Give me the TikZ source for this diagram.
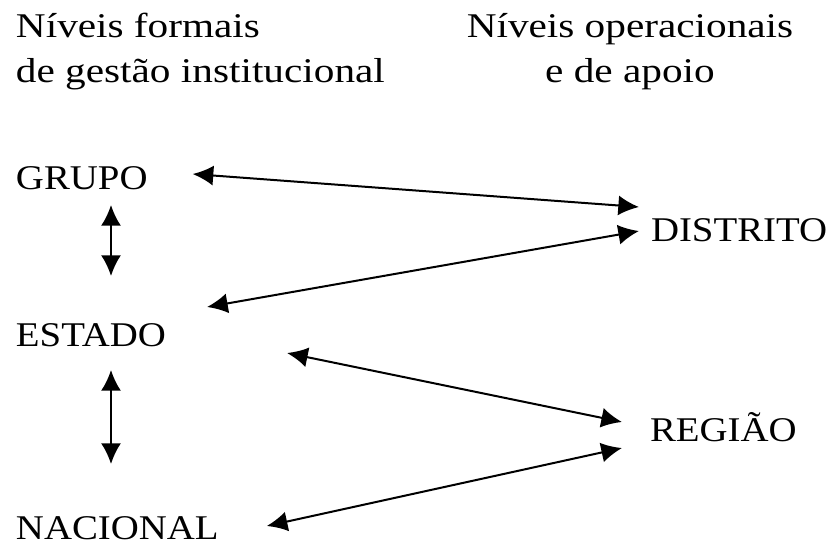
\documentclass[tikz,border=0pt]{standalone}
\usepackage{fontspec}
\setmainfont{Liberation Serif}[FakeStretch=1.12]
\newfontfamily\hdrfont{Liberation Serif}[FakeStretch=1.19]
\usetikzlibrary{arrows.meta}
\tikzset{
  lbl/.style={inner sep=0pt, outer sep=0pt, anchor=base west, text depth=0pt, font=\fontsize{26}{45}\selectfont},
  hdr/.style={inner sep=0pt, outer sep=0pt, anchor=base, align=center, font=\hdrfont\fontsize{26}{34}\selectfont},
  hdrl/.style={inner sep=0pt, outer sep=0pt, anchor=base west, align=left, font=\hdrfont\fontsize{26}{34}\selectfont},
  link/.style={line width=1.5pt, {Latex[length=15.5pt,width=15pt]}-{Latex[length=15.5pt,width=15pt]}}
}
\begin{document}
\begin{tikzpicture}[x=0.75pt,y=-0.75pt]
\useasboundingbox (0,0) rectangle (829,547);
% headers
\node[hdrl] (h1a) at (16,37) {Níveis formais};
\node[hdrl] (h1b) at (16,82) {de gestão institucional};
\node[hdr] (h2a) at (630,37) {Níveis operacionais};
\node[hdr] (h2b) at (630,82) {e de apoio};
% levels
\node[lbl] (grupo) at (16,189) {GRUPO};
\node[lbl] (estado) at (16,346) {ESTADO};
\node[lbl] (nacional) at (16,539) {NACIONAL};
\node[lbl] (distrito) at (651,241) {DISTRITO};
\node[lbl] (regiao) at (650,441) {REGIÃO};
% connectors
\draw[link] ([shift={(193-148,174-189)}]grupo.base east) -- ([shift={(639-651,207-241)}]distrito.base west);
\draw[link] ([shift={(208-167,307-346)}]estado.base east) -- ([shift={(639-651,231-241)}]distrito.base west);
\draw[link] ([shift={(288-167,353-346)}]estado.base east) -- ([shift={(622-650,422-441)}]regiao.base west);
\draw[link] ([shift={(273-225,526-539)}]nacional.base east) -- ([shift={(622-650,448-441)}]regiao.base west);
\draw[link] ([shift={(111-16,205-189)}]grupo.base west) -- ([shift={(111-16,276-346)}]estado.base west);
\draw[link] ([shift={(111-16,370-346)}]estado.base west) -- ([shift={(111-16,464-539)}]nacional.base west);
\end{tikzpicture}
\end{document}
